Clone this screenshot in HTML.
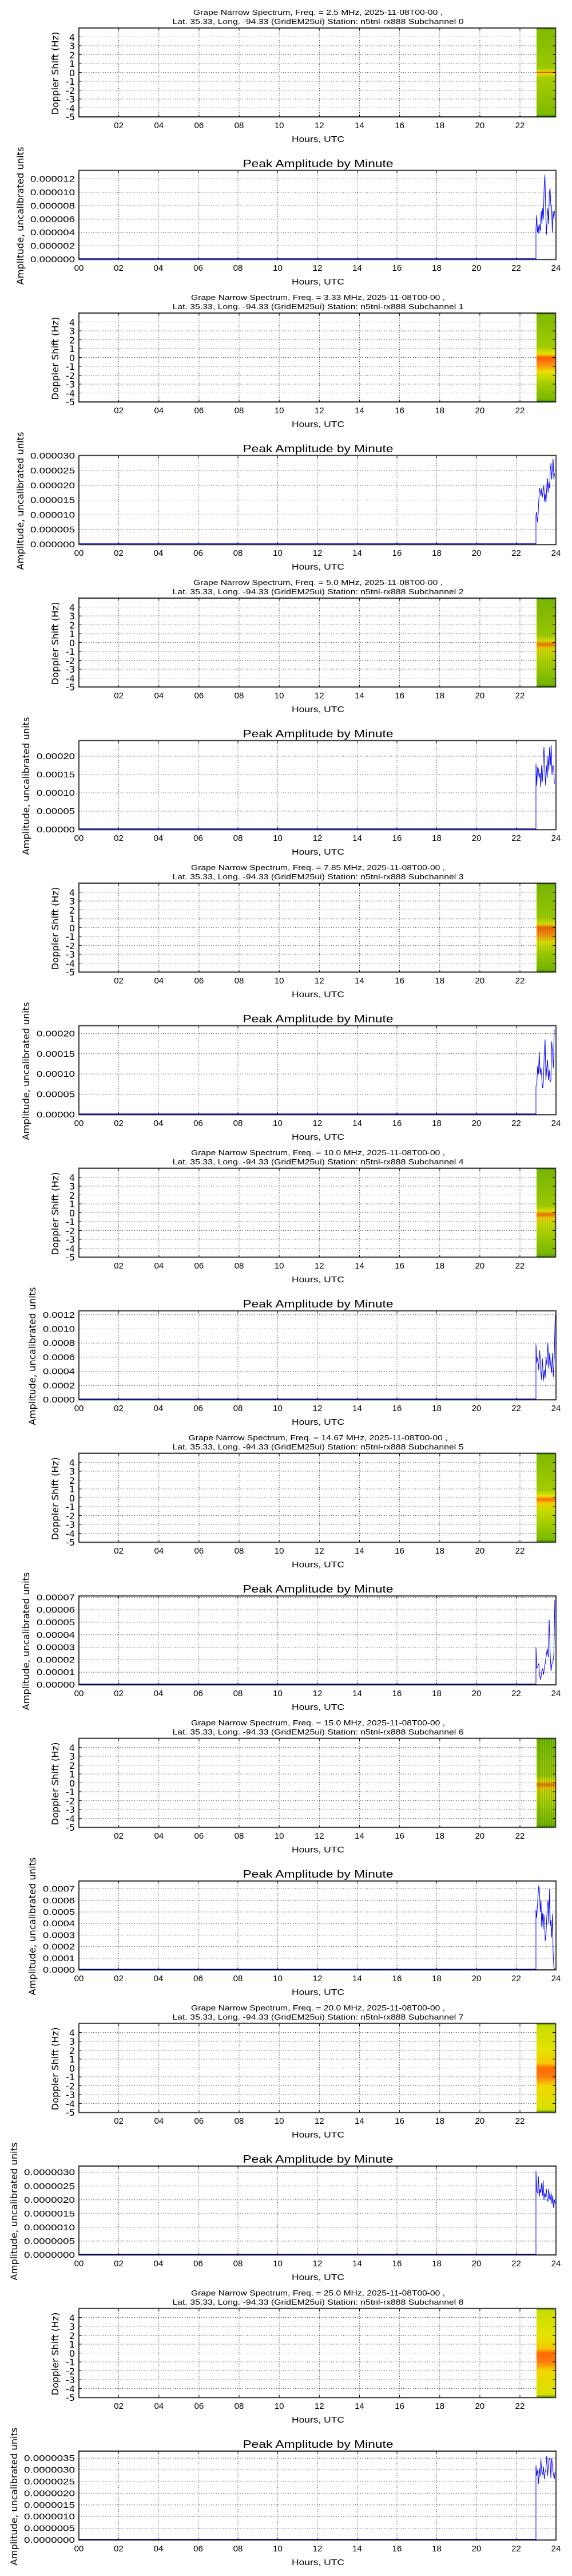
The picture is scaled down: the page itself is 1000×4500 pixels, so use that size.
<!DOCTYPE html>
<html><head><meta charset="utf-8"><style>
html,body{margin:0;padding:0;background:#fff;}
svg{display:block;}
text{font-family:"Liberation Sans",sans-serif;fill:#000;}
.t{font-size:13px;text-anchor:middle;}
.tk{font-size:15px;text-anchor:middle;}
.yt{font-size:16px;text-anchor:end;font-family:"DejaVu Sans","Liberation Sans",sans-serif;}
.ya{font-size:15px;text-anchor:end;}
.yl{font-size:16px;text-anchor:middle;font-family:"DejaVu Sans","Liberation Sans",sans-serif;}
.at{font-size:18px;text-anchor:middle;}
.g{stroke:#000;stroke-width:0.8;stroke-dasharray:1.2,3;fill:none;}
.fr{fill:none;stroke:#000;stroke-width:1.4;}
.ob{fill:none;stroke:#bbb;stroke-width:1;}
.tc{stroke:#000;stroke-width:1;}
.ln{fill:none;stroke:#0000ff;stroke-width:1;vector-effect:non-scaling-stroke;}
</style></head><body>
<svg width="1000" height="4500" viewBox="0 0 1000 4500" xmlns="http://www.w3.org/2000/svg">
<defs>
<linearGradient id="gA" x1="0" y1="0" x2="0" y2="1">
<stop offset="0" stop-color="#3f8f00"/><stop offset="0.02" stop-color="#7fbb00"/><stop offset="0.45" stop-color="#9cc800"/><stop offset="0.49" stop-color="#d8e000"/><stop offset="0.5" stop-color="#ff2000"/><stop offset="0.51" stop-color="#e0e000"/><stop offset="0.56" stop-color="#a8cc00"/><stop offset="0.97" stop-color="#80bb00"/><stop offset="1" stop-color="#3f8f00"/>
</linearGradient>
<linearGradient id="gB" x1="0" y1="0" x2="0" y2="1">
<stop offset="0" stop-color="#3f8f00"/><stop offset="0.02" stop-color="#80bb00"/><stop offset="0.38" stop-color="#a0cc00"/><stop offset="0.46" stop-color="#e8e400"/><stop offset="0.5" stop-color="#ff5a00"/><stop offset="0.58" stop-color="#ff8a10"/><stop offset="0.66" stop-color="#e8e000"/><stop offset="0.8" stop-color="#a0cc00"/><stop offset="0.97" stop-color="#7cb800"/><stop offset="1" stop-color="#3f8f00"/>
</linearGradient>
<linearGradient id="gC" x1="0" y1="0" x2="0" y2="1">
<stop offset="0" stop-color="#3f8f00"/><stop offset="0.02" stop-color="#80bb00"/><stop offset="0.42" stop-color="#a4cc00"/><stop offset="0.48" stop-color="#e8e400"/><stop offset="0.52" stop-color="#ff6a00"/><stop offset="0.56" stop-color="#f0d000"/><stop offset="0.64" stop-color="#c8da00"/><stop offset="0.8" stop-color="#a0cc00"/><stop offset="0.97" stop-color="#7cb800"/><stop offset="1" stop-color="#3f8f00"/>
</linearGradient>
<linearGradient id="gD" x1="0" y1="0" x2="0" y2="1">
<stop offset="0" stop-color="#3f8f00"/><stop offset="0.02" stop-color="#c8dc00"/><stop offset="0.3" stop-color="#e4e400"/><stop offset="0.45" stop-color="#f4c800"/><stop offset="0.5" stop-color="#ff6a00"/><stop offset="0.6" stop-color="#ff7a10"/><stop offset="0.7" stop-color="#f0d800"/><stop offset="0.97" stop-color="#d8e000"/><stop offset="1" stop-color="#3f8f00"/>
</linearGradient>
<g id="sp">
<path class="g" d="M207.6 49V204M277.8 49V204M347.9 49V204M418 49V204M488.2 49V204M558.3 49V204M628.5 49V204M698.6 49V204M768.8 49V204M838.9 49V204M909 49V204M138 64.5H971M138 80H971M138 95.5H971M138 111H971M138 126.5H971M138 142H971M138 157.5H971M138 173H971M138 188.5H971"/>
</g>
<g id="spf">
<path class="tc" d="M207.6 204v-4M277.8 204v-4M347.9 204v-4M418 204v-4M488.2 204v-4M558.3 204v-4M628.5 204v-4M698.6 204v-4M768.8 204v-4M838.9 204v-4M909 204v-4M207.6 49v4M277.8 49v4M347.9 49v4M418 49v4M488.2 49v4M558.3 49v4M628.5 49v4M698.6 49v4M768.8 49v4M838.9 49v4M909 49v4M138 64.5h4M138 80h4M138 95.5h4M138 111h4M138 126.5h4M138 142h4M138 157.5h4M138 173h4M138 188.5h4M971 64.5h-5M971 80h-5M971 95.5h-5M971 111h-5M971 126.5h-5M971 142h-5M971 157.5h-5M971 173h-5M971 188.5h-5"/>
<rect class="ob" x="136.5" y="47.5" width="836" height="158"/>
<rect class="fr" x="138" y="49" width="833" height="155"/>
</g>
<g id="ax">
<path class="g" d="M207.5 298V453M277 298V453M346.5 298V453M416 298V453M485.5 298V453M555 298V453M624.5 298V453M694 298V453M763.5 298V453M833 298V453M902.5 298V453"/>
<line x1="138" y1="452" x2="937" y2="452" stroke="#0000ff" stroke-width="1.6"/>
</g>
<g id="axf">
<path class="tc" d="M207.5 453v-4M277 453v-4M346.5 453v-4M416 453v-4M485.5 453v-4M555 453v-4M624.5 453v-4M694 453v-4M763.5 453v-4M833 453v-4M902.5 453v-4M207.5 298v4M277 298v4M346.5 298v4M416 298v4M485.5 298v4M555 298v4M624.5 298v4M694 298v4M763.5 298v4M833 298v4M902.5 298v4"/>
<rect class="ob" x="136.5" y="296.5" width="836" height="158"/>
<rect class="fr" x="138" y="298" width="834" height="155"/>
</g>
</defs>

<!-- common text is written per block -->

<!-- BLOCK 0 -->
<g transform="translate(0,0)">
<text class="t" x="556" y="26" textLength="436" lengthAdjust="spacingAndGlyphs">Grape Narrow Spectrum, Freq. = 2.5 MHz, 2025-11-08T00-00 ,</text>
<text class="t" x="556" y="42" textLength="509" lengthAdjust="spacingAndGlyphs">Lat.  35.33, Long. -94.33 (GridEM25ui) Station: n5tnl-rx888 Subchannel 0</text>
<use href="#sp"/>
<rect x="938" y="49" width="33" height="155" fill="url(#gA)"/>
<use href="#spf"/>
<text class="yt" x="131" y="71">4</text><text class="yt" x="131" y="86">3</text><text class="yt" x="131" y="102">2</text><text class="yt" x="131" y="117">1</text><text class="yt" x="131" y="133">0</text><text class="yt" x="131" y="148">-1</text><text class="yt" x="131" y="164">-2</text><text class="yt" x="131" y="179">-3</text><text class="yt" x="131" y="195">-4</text><text class="yt" x="131" y="210">-5</text>
<text class="yl" transform="translate(102,128) rotate(-90)" textLength="145" lengthAdjust="spacingAndGlyphs">Doppler Shift (Hz)</text>
<g class="tk"><text x="207.6" y="224">02</text><text x="277.8" y="224">04</text><text x="347.9" y="224">06</text><text x="418" y="224">08</text><text x="488.2" y="224">10</text><text x="558.3" y="224">12</text><text x="628.5" y="224">14</text><text x="698.6" y="224">16</text><text x="768.8" y="224">18</text><text x="838.9" y="224">20</text><text x="909" y="224">22</text></g>
<text class="tk" x="556" y="248" textLength="92" lengthAdjust="spacingAndGlyphs">Hours, UTC</text>
<text class="at" x="556" y="292" textLength="263" lengthAdjust="spacingAndGlyphs">Peak Amplitude by Minute</text>
<use href="#ax"/>
<path class="g" d="M138 429.6H972M138 406.2H972M138 382.8H972M138 359.4H972M138 336H972M138 312.6H972"/>
<polyline class="ln" transform="translate(937,453) scale(1.3,-23.4)" points="0,0 0,2.3 1,3.3 2,2 3,2.5 4,1.9 5,2.6 6,2.1 7,3.6 8,2.6 9,3.8 10,3 11,5.4 12,6.3 13,4 14,1.8 15,3 16,3.8 17,2.6 18,5 19,5.3 20,4 21,4 22,2 23,3.6 24,3 25,3.6"/>
<use href="#axf"/>
<g class="ya"><text x="131" y="458" textLength="78" lengthAdjust="spacingAndGlyphs">0.000000</text><text x="131" y="434.6" textLength="78" lengthAdjust="spacingAndGlyphs">0.000002</text><text x="131" y="411.2" textLength="78" lengthAdjust="spacingAndGlyphs">0.000004</text><text x="131" y="387.8" textLength="78" lengthAdjust="spacingAndGlyphs">0.000006</text><text x="131" y="364.4" textLength="78" lengthAdjust="spacingAndGlyphs">0.000008</text><text x="131" y="341" textLength="78" lengthAdjust="spacingAndGlyphs">0.000010</text><text x="131" y="317.6" textLength="78" lengthAdjust="spacingAndGlyphs">0.000012</text></g>
<text class="yl" transform="translate(41,377) rotate(-90)" textLength="241" lengthAdjust="spacingAndGlyphs">Amplitude, uncalibrated units</text>
<g class="tk"><text x="138" y="473">00</text><text x="207.5" y="473">02</text><text x="277" y="473">04</text><text x="346.5" y="473">06</text><text x="416" y="473">08</text><text x="485.5" y="473">10</text><text x="555" y="473">12</text><text x="624.5" y="473">14</text><text x="694" y="473">16</text><text x="763.5" y="473">18</text><text x="833" y="473">20</text><text x="902.5" y="473">22</text><text x="972" y="473">24</text></g>
<text class="tk" x="556" y="497" textLength="92" lengthAdjust="spacingAndGlyphs">Hours, UTC</text>
</g>

<!-- BLOCK 1 -->
<g transform="translate(0,498)">
<text class="t" x="556" y="26" textLength="444" lengthAdjust="spacingAndGlyphs">Grape Narrow Spectrum, Freq. = 3.33 MHz, 2025-11-08T00-00 ,</text>
<text class="t" x="556" y="42" textLength="509" lengthAdjust="spacingAndGlyphs">Lat.  35.33, Long. -94.33 (GridEM25ui) Station: n5tnl-rx888 Subchannel 1</text>
<use href="#sp"/>
<rect x="938" y="49" width="33" height="155" fill="url(#gB)"/>
<use href="#spf"/>
<text class="yt" x="131" y="71">4</text><text class="yt" x="131" y="86">3</text><text class="yt" x="131" y="102">2</text><text class="yt" x="131" y="117">1</text><text class="yt" x="131" y="133">0</text><text class="yt" x="131" y="148">-1</text><text class="yt" x="131" y="164">-2</text><text class="yt" x="131" y="179">-3</text><text class="yt" x="131" y="195">-4</text><text class="yt" x="131" y="210">-5</text>
<text class="yl" transform="translate(102,128) rotate(-90)" textLength="145" lengthAdjust="spacingAndGlyphs">Doppler Shift (Hz)</text>
<g class="tk"><text x="207.6" y="224">02</text><text x="277.8" y="224">04</text><text x="347.9" y="224">06</text><text x="418" y="224">08</text><text x="488.2" y="224">10</text><text x="558.3" y="224">12</text><text x="628.5" y="224">14</text><text x="698.6" y="224">16</text><text x="768.8" y="224">18</text><text x="838.9" y="224">20</text><text x="909" y="224">22</text></g>
<text class="tk" x="556" y="248" textLength="92" lengthAdjust="spacingAndGlyphs">Hours, UTC</text>
<text class="at" x="556" y="292" textLength="263" lengthAdjust="spacingAndGlyphs">Peak Amplitude by Minute</text>
<use href="#ax"/>
<path class="g" d="M138 427.2H972M138 401.4H972M138 375.6H972M138 349.8H972M138 324H972M138 298.2H972"/>
<polyline class="ln" transform="translate(937,453) scale(1.25,-25.8)" points="0,0 0,2 1,2.2 2,1.5 3,2 4,3 5,3.8 6,3.6 7,3.3 8,3.8 9,3.2 10,3.6 11,4 12,2.9 13,3.4 14,2.8 15,3.8 16,4.5 17,3.5 18,4.2 19,3.8 20,5 21,5.5 22,4.4 23,5.2 24,5.8 25,4.4 26,4.8"/>
<use href="#axf"/>
<g class="ya"><text x="131" y="458" textLength="78" lengthAdjust="spacingAndGlyphs">0.000000</text><text x="131" y="432.2" textLength="78" lengthAdjust="spacingAndGlyphs">0.000005</text><text x="131" y="406.4" textLength="78" lengthAdjust="spacingAndGlyphs">0.000010</text><text x="131" y="380.6" textLength="78" lengthAdjust="spacingAndGlyphs">0.000015</text><text x="131" y="354.8" textLength="78" lengthAdjust="spacingAndGlyphs">0.000020</text><text x="131" y="329" textLength="78" lengthAdjust="spacingAndGlyphs">0.000025</text><text x="131" y="303.2" textLength="78" lengthAdjust="spacingAndGlyphs">0.000030</text></g>
<text class="yl" transform="translate(41,377) rotate(-90)" textLength="241" lengthAdjust="spacingAndGlyphs">Amplitude, uncalibrated units</text>
<g class="tk"><text x="138" y="473">00</text><text x="207.5" y="473">02</text><text x="277" y="473">04</text><text x="346.5" y="473">06</text><text x="416" y="473">08</text><text x="485.5" y="473">10</text><text x="555" y="473">12</text><text x="624.5" y="473">14</text><text x="694" y="473">16</text><text x="763.5" y="473">18</text><text x="833" y="473">20</text><text x="902.5" y="473">22</text><text x="972" y="473">24</text></g>
<text class="tk" x="556" y="497" textLength="92" lengthAdjust="spacingAndGlyphs">Hours, UTC</text>
</g>

<!-- BLOCK 2 -->
<g transform="translate(0,996)">
<text class="t" x="556" y="26" textLength="436" lengthAdjust="spacingAndGlyphs">Grape Narrow Spectrum, Freq. = 5.0 MHz, 2025-11-08T00-00 ,</text>
<text class="t" x="556" y="42" textLength="509" lengthAdjust="spacingAndGlyphs">Lat.  35.33, Long. -94.33 (GridEM25ui) Station: n5tnl-rx888 Subchannel 2</text>
<use href="#sp"/>
<rect x="938" y="49" width="33" height="155" fill="url(#gC)"/>
<path d="M941 49V204M945 49V204M949 49V204M953 49V204M957 49V204M961 49V204M965 49V204M969 49V204" stroke="#3f8f00" stroke-width="0.8" opacity="0.6"/>
<use href="#spf"/>
<text class="yt" x="131" y="71">4</text><text class="yt" x="131" y="86">3</text><text class="yt" x="131" y="102">2</text><text class="yt" x="131" y="117">1</text><text class="yt" x="131" y="133">0</text><text class="yt" x="131" y="148">-1</text><text class="yt" x="131" y="164">-2</text><text class="yt" x="131" y="179">-3</text><text class="yt" x="131" y="195">-4</text><text class="yt" x="131" y="210">-5</text>
<text class="yl" transform="translate(102,128) rotate(-90)" textLength="145" lengthAdjust="spacingAndGlyphs">Doppler Shift (Hz)</text>
<g class="tk"><text x="207.6" y="224">02</text><text x="277.8" y="224">04</text><text x="347.9" y="224">06</text><text x="418" y="224">08</text><text x="488.2" y="224">10</text><text x="558.3" y="224">12</text><text x="628.5" y="224">14</text><text x="698.6" y="224">16</text><text x="768.8" y="224">18</text><text x="838.9" y="224">20</text><text x="909" y="224">22</text></g>
<text class="tk" x="556" y="248" textLength="92" lengthAdjust="spacingAndGlyphs">Hours, UTC</text>
<text class="at" x="556" y="292" textLength="263" lengthAdjust="spacingAndGlyphs">Peak Amplitude by Minute</text>
<use href="#ax"/>
<path class="g" d="M138 421H972M138 389H972M138 357H972M138 325H972"/>
<polyline class="ln" transform="translate(937,453) scale(1.4,-32)" points="0,0 0,3.6 1,2.4 2,3.4 3,3.3 4,2.8 5,3.1 6,2.3 7,3.5 8,2.6 9,3.6 10,4.5 11,3.3 12,2.4 13,3.5 14,2.8 15,4 16,3.2 17,4.5 18,3.5 19,4.6 20,3 21,3.5 22,3.4 23,2.5"/>
<use href="#axf"/>
<g class="ya"><text x="131" y="458" textLength="67" lengthAdjust="spacingAndGlyphs">0.00000</text><text x="131" y="426" textLength="67" lengthAdjust="spacingAndGlyphs">0.00005</text><text x="131" y="394" textLength="67" lengthAdjust="spacingAndGlyphs">0.00010</text><text x="131" y="362" textLength="67" lengthAdjust="spacingAndGlyphs">0.00015</text><text x="131" y="330" textLength="67" lengthAdjust="spacingAndGlyphs">0.00020</text></g>
<text class="yl" transform="translate(51,377) rotate(-90)" textLength="241" lengthAdjust="spacingAndGlyphs">Amplitude, uncalibrated units</text>
<g class="tk"><text x="138" y="473">00</text><text x="207.5" y="473">02</text><text x="277" y="473">04</text><text x="346.5" y="473">06</text><text x="416" y="473">08</text><text x="485.5" y="473">10</text><text x="555" y="473">12</text><text x="624.5" y="473">14</text><text x="694" y="473">16</text><text x="763.5" y="473">18</text><text x="833" y="473">20</text><text x="902.5" y="473">22</text><text x="972" y="473">24</text></g>
<text class="tk" x="556" y="497" textLength="92" lengthAdjust="spacingAndGlyphs">Hours, UTC</text>
</g>

<!-- BLOCK 3 -->
<g transform="translate(0,1494)">
<text class="t" x="556" y="26" textLength="444" lengthAdjust="spacingAndGlyphs">Grape Narrow Spectrum, Freq. = 7.85 MHz, 2025-11-08T00-00 ,</text>
<text class="t" x="556" y="42" textLength="509" lengthAdjust="spacingAndGlyphs">Lat.  35.33, Long. -94.33 (GridEM25ui) Station: n5tnl-rx888 Subchannel 3</text>
<use href="#sp"/>
<rect x="938" y="49" width="33" height="155" fill="url(#gB)"/>
<path d="M941 49V204M945 49V204M949 49V204M953 49V204M957 49V204M961 49V204M965 49V204M969 49V204" stroke="#3f8f00" stroke-width="0.8" opacity="0.6"/>
<use href="#spf"/>
<text class="yt" x="131" y="71">4</text><text class="yt" x="131" y="86">3</text><text class="yt" x="131" y="102">2</text><text class="yt" x="131" y="117">1</text><text class="yt" x="131" y="133">0</text><text class="yt" x="131" y="148">-1</text><text class="yt" x="131" y="164">-2</text><text class="yt" x="131" y="179">-3</text><text class="yt" x="131" y="195">-4</text><text class="yt" x="131" y="210">-5</text>
<text class="yl" transform="translate(102,128) rotate(-90)" textLength="145" lengthAdjust="spacingAndGlyphs">Doppler Shift (Hz)</text>
<g class="tk"><text x="207.6" y="224">02</text><text x="277.8" y="224">04</text><text x="347.9" y="224">06</text><text x="418" y="224">08</text><text x="488.2" y="224">10</text><text x="558.3" y="224">12</text><text x="628.5" y="224">14</text><text x="698.6" y="224">16</text><text x="768.8" y="224">18</text><text x="838.9" y="224">20</text><text x="909" y="224">22</text></g>
<text class="tk" x="556" y="248" textLength="92" lengthAdjust="spacingAndGlyphs">Hours, UTC</text>
<text class="at" x="556" y="292" textLength="263" lengthAdjust="spacingAndGlyphs">Peak Amplitude by Minute</text>
<use href="#ax"/>
<path class="g" d="M138 417.6H972M138 382.2H972M138 346.8H972M138 311.4H972"/>
<polyline class="ln" transform="translate(937,453) scale(1.45,-35.4)" points="0,0 0,1.4 1,1.5 2,2.4 3,2 4,3.1 5,2 6,2.3 7,1.8 8,1.3 9,1.6 10,3 11,3.7 12,1.7 13,2.3 14,2.7 15,1.7 16,2.2 17,1.6 18,1.7 19,3.6 20,3 21,2.3 22,4.2"/>
<use href="#axf"/>
<g class="ya"><text x="131" y="458" textLength="67" lengthAdjust="spacingAndGlyphs">0.00000</text><text x="131" y="422.6" textLength="67" lengthAdjust="spacingAndGlyphs">0.00005</text><text x="131" y="387.2" textLength="67" lengthAdjust="spacingAndGlyphs">0.00010</text><text x="131" y="351.8" textLength="67" lengthAdjust="spacingAndGlyphs">0.00015</text><text x="131" y="316.4" textLength="67" lengthAdjust="spacingAndGlyphs">0.00020</text></g>
<text class="yl" transform="translate(51,377) rotate(-90)" textLength="241" lengthAdjust="spacingAndGlyphs">Amplitude, uncalibrated units</text>
<g class="tk"><text x="138" y="473">00</text><text x="207.5" y="473">02</text><text x="277" y="473">04</text><text x="346.5" y="473">06</text><text x="416" y="473">08</text><text x="485.5" y="473">10</text><text x="555" y="473">12</text><text x="624.5" y="473">14</text><text x="694" y="473">16</text><text x="763.5" y="473">18</text><text x="833" y="473">20</text><text x="902.5" y="473">22</text><text x="972" y="473">24</text></g>
<text class="tk" x="556" y="497" textLength="92" lengthAdjust="spacingAndGlyphs">Hours, UTC</text>
</g>

<!-- BLOCK 4 -->
<g transform="translate(0,1992)">
<text class="t" x="556" y="26" textLength="444" lengthAdjust="spacingAndGlyphs">Grape Narrow Spectrum, Freq. = 10.0 MHz, 2025-11-08T00-00 ,</text>
<text class="t" x="556" y="42" textLength="509" lengthAdjust="spacingAndGlyphs">Lat.  35.33, Long. -94.33 (GridEM25ui) Station: n5tnl-rx888 Subchannel 4</text>
<use href="#sp"/>
<rect x="938" y="49" width="33" height="155" fill="url(#gC)"/>
<path d="M941 49V204M945 49V204M949 49V204M953 49V204M957 49V204M961 49V204M965 49V204M969 49V204" stroke="#3f8f00" stroke-width="0.8" opacity="0.5"/>
<use href="#spf"/>
<text class="yt" x="131" y="71">4</text><text class="yt" x="131" y="86">3</text><text class="yt" x="131" y="102">2</text><text class="yt" x="131" y="117">1</text><text class="yt" x="131" y="133">0</text><text class="yt" x="131" y="148">-1</text><text class="yt" x="131" y="164">-2</text><text class="yt" x="131" y="179">-3</text><text class="yt" x="131" y="195">-4</text><text class="yt" x="131" y="210">-5</text>
<text class="yl" transform="translate(102,128) rotate(-90)" textLength="145" lengthAdjust="spacingAndGlyphs">Doppler Shift (Hz)</text>
<g class="tk"><text x="207.6" y="224">02</text><text x="277.8" y="224">04</text><text x="347.9" y="224">06</text><text x="418" y="224">08</text><text x="488.2" y="224">10</text><text x="558.3" y="224">12</text><text x="628.5" y="224">14</text><text x="698.6" y="224">16</text><text x="768.8" y="224">18</text><text x="838.9" y="224">20</text><text x="909" y="224">22</text></g>
<text class="tk" x="556" y="248" textLength="92" lengthAdjust="spacingAndGlyphs">Hours, UTC</text>
<text class="at" x="556" y="292" textLength="263" lengthAdjust="spacingAndGlyphs">Peak Amplitude by Minute</text>
<use href="#ax"/>
<path class="g" d="M138 428.3H972M138 403.6H972M138 378.9H972M138 354.2H972M138 329.5H972M138 304.8H972"/>
<polyline class="ln" transform="translate(937,453) scale(1.6,-24.7)" points="0,0 0,3.9 1,2.6 2,3 3,2.1 4,3.5 5,2.4 6,1.4 7,2.9 8,1.3 9,2.1 10,1.5 11,3 12,2.4 13,4 14,2.2 15,3.3 16,2.5 17,1.9 18,3.3 19,1.6 20,3 21,6"/>
<use href="#axf"/>
<g class="ya"><text x="131" y="458" textLength="56" lengthAdjust="spacingAndGlyphs">0.0000</text><text x="131" y="433.3" textLength="56" lengthAdjust="spacingAndGlyphs">0.0002</text><text x="131" y="408.6" textLength="56" lengthAdjust="spacingAndGlyphs">0.0004</text><text x="131" y="383.9" textLength="56" lengthAdjust="spacingAndGlyphs">0.0006</text><text x="131" y="359.2" textLength="56" lengthAdjust="spacingAndGlyphs">0.0008</text><text x="131" y="334.5" textLength="56" lengthAdjust="spacingAndGlyphs">0.0010</text><text x="131" y="309.8" textLength="56" lengthAdjust="spacingAndGlyphs">0.0012</text></g>
<text class="yl" transform="translate(62,377) rotate(-90)" textLength="241" lengthAdjust="spacingAndGlyphs">Amplitude, uncalibrated units</text>
<g class="tk"><text x="138" y="473">00</text><text x="207.5" y="473">02</text><text x="277" y="473">04</text><text x="346.5" y="473">06</text><text x="416" y="473">08</text><text x="485.5" y="473">10</text><text x="555" y="473">12</text><text x="624.5" y="473">14</text><text x="694" y="473">16</text><text x="763.5" y="473">18</text><text x="833" y="473">20</text><text x="902.5" y="473">22</text><text x="972" y="473">24</text></g>
<text class="tk" x="556" y="497" textLength="92" lengthAdjust="spacingAndGlyphs">Hours, UTC</text>
</g>

<!-- BLOCK 5 -->
<g transform="translate(0,2490)">
<text class="t" x="556" y="26" textLength="453" lengthAdjust="spacingAndGlyphs">Grape Narrow Spectrum, Freq. = 14.67 MHz, 2025-11-08T00-00 ,</text>
<text class="t" x="556" y="42" textLength="509" lengthAdjust="spacingAndGlyphs">Lat.  35.33, Long. -94.33 (GridEM25ui) Station: n5tnl-rx888 Subchannel 5</text>
<use href="#sp"/>
<rect x="938" y="49" width="33" height="155" fill="url(#gC)"/>
<use href="#spf"/>
<text class="yt" x="131" y="71">4</text><text class="yt" x="131" y="86">3</text><text class="yt" x="131" y="102">2</text><text class="yt" x="131" y="117">1</text><text class="yt" x="131" y="133">0</text><text class="yt" x="131" y="148">-1</text><text class="yt" x="131" y="164">-2</text><text class="yt" x="131" y="179">-3</text><text class="yt" x="131" y="195">-4</text><text class="yt" x="131" y="210">-5</text>
<text class="yl" transform="translate(102,128) rotate(-90)" textLength="145" lengthAdjust="spacingAndGlyphs">Doppler Shift (Hz)</text>
<g class="tk"><text x="207.6" y="224">02</text><text x="277.8" y="224">04</text><text x="347.9" y="224">06</text><text x="418" y="224">08</text><text x="488.2" y="224">10</text><text x="558.3" y="224">12</text><text x="628.5" y="224">14</text><text x="698.6" y="224">16</text><text x="768.8" y="224">18</text><text x="838.9" y="224">20</text><text x="909" y="224">22</text></g>
<text class="tk" x="556" y="248" textLength="92" lengthAdjust="spacingAndGlyphs">Hours, UTC</text>
<text class="at" x="556" y="292" textLength="263" lengthAdjust="spacingAndGlyphs">Peak Amplitude by Minute</text>
<use href="#ax"/>
<path class="g" d="M138 431.2H972M138 409.4H972M138 387.6H972M138 365.8H972M138 344H972M138 322.2H972M138 300.4H972"/>
<polyline class="ln" transform="translate(937,453) scale(1.65,-21.8)" points="0,0 0,3 1,1.3 2,1.5 3,1.7 4,0.7 5,0.4 6,1 7,1.3 8,0.8 9,1.4 10,1.8 11,2.4 12,2.9 13,2.2 14,5.2 15,2.5 16,1.1 17,1.7 18,1.8 19,2.5 20,6.8"/>
<use href="#axf"/>
<g class="ya"><text x="131" y="458" textLength="67" lengthAdjust="spacingAndGlyphs">0.00000</text><text x="131" y="436.2" textLength="67" lengthAdjust="spacingAndGlyphs">0.00001</text><text x="131" y="414.4" textLength="67" lengthAdjust="spacingAndGlyphs">0.00002</text><text x="131" y="392.6" textLength="67" lengthAdjust="spacingAndGlyphs">0.00003</text><text x="131" y="370.8" textLength="67" lengthAdjust="spacingAndGlyphs">0.00004</text><text x="131" y="349" textLength="67" lengthAdjust="spacingAndGlyphs">0.00005</text><text x="131" y="327.2" textLength="67" lengthAdjust="spacingAndGlyphs">0.00006</text><text x="131" y="305.4" textLength="67" lengthAdjust="spacingAndGlyphs">0.00007</text></g>
<text class="yl" transform="translate(51,377) rotate(-90)" textLength="241" lengthAdjust="spacingAndGlyphs">Amplitude, uncalibrated units</text>
<g class="tk"><text x="138" y="473">00</text><text x="207.5" y="473">02</text><text x="277" y="473">04</text><text x="346.5" y="473">06</text><text x="416" y="473">08</text><text x="485.5" y="473">10</text><text x="555" y="473">12</text><text x="624.5" y="473">14</text><text x="694" y="473">16</text><text x="763.5" y="473">18</text><text x="833" y="473">20</text><text x="902.5" y="473">22</text><text x="972" y="473">24</text></g>
<text class="tk" x="556" y="497" textLength="92" lengthAdjust="spacingAndGlyphs">Hours, UTC</text>
</g>

<!-- BLOCK 6 -->
<g transform="translate(0,2988)">
<text class="t" x="556" y="26" textLength="444" lengthAdjust="spacingAndGlyphs">Grape Narrow Spectrum, Freq. = 15.0 MHz, 2025-11-08T00-00 ,</text>
<text class="t" x="556" y="42" textLength="509" lengthAdjust="spacingAndGlyphs">Lat.  35.33, Long. -94.33 (GridEM25ui) Station: n5tnl-rx888 Subchannel 6</text>
<use href="#sp"/>
<rect x="938" y="49" width="33" height="155" fill="url(#gC)"/>
<path d="M941 49V204M944 49V204M948 49V204M952 49V204M956 49V204M960 49V204M964 49V204M968 49V204" stroke="#2f8000" stroke-width="1" opacity="0.7"/>
<use href="#spf"/>
<text class="yt" x="131" y="71">4</text><text class="yt" x="131" y="86">3</text><text class="yt" x="131" y="102">2</text><text class="yt" x="131" y="117">1</text><text class="yt" x="131" y="133">0</text><text class="yt" x="131" y="148">-1</text><text class="yt" x="131" y="164">-2</text><text class="yt" x="131" y="179">-3</text><text class="yt" x="131" y="195">-4</text><text class="yt" x="131" y="210">-5</text>
<text class="yl" transform="translate(102,128) rotate(-90)" textLength="145" lengthAdjust="spacingAndGlyphs">Doppler Shift (Hz)</text>
<g class="tk"><text x="207.6" y="224">02</text><text x="277.8" y="224">04</text><text x="347.9" y="224">06</text><text x="418" y="224">08</text><text x="488.2" y="224">10</text><text x="558.3" y="224">12</text><text x="628.5" y="224">14</text><text x="698.6" y="224">16</text><text x="768.8" y="224">18</text><text x="838.9" y="224">20</text><text x="909" y="224">22</text></g>
<text class="tk" x="556" y="248" textLength="92" lengthAdjust="spacingAndGlyphs">Hours, UTC</text>
<text class="at" x="556" y="292" textLength="263" lengthAdjust="spacingAndGlyphs">Peak Amplitude by Minute</text>
<use href="#ax"/>
<path class="g" d="M138 432.8H972M138 412.6H972M138 392.4H972M138 372.2H972M138 352H972M138 331.8H972M138 311.6H972"/>
<polyline class="ln" transform="translate(937,453) scale(1.25,-20.2)" points="0,0 0,5.2 1,4.5 2,5.5 3,6.5 4,7.3 5,6.8 6,5 7,6 8,3.7 9,4.9 10,3.5 11,4.8 12,4.2 13,2.5 14,3 15,4.4 16,5.5 17,6 18,4 19,7 20,3.8 21,4.3 22,2.8 23,4.8 24,1.5 25,0.2 26,0.1 27,0.1"/>
<use href="#axf"/>
<g class="ya"><text x="131" y="458" textLength="56" lengthAdjust="spacingAndGlyphs">0.0000</text><text x="131" y="437.8" textLength="56" lengthAdjust="spacingAndGlyphs">0.0001</text><text x="131" y="417.6" textLength="56" lengthAdjust="spacingAndGlyphs">0.0002</text><text x="131" y="397.4" textLength="56" lengthAdjust="spacingAndGlyphs">0.0003</text><text x="131" y="377.2" textLength="56" lengthAdjust="spacingAndGlyphs">0.0004</text><text x="131" y="357" textLength="56" lengthAdjust="spacingAndGlyphs">0.0005</text><text x="131" y="336.8" textLength="56" lengthAdjust="spacingAndGlyphs">0.0006</text><text x="131" y="316.6" textLength="56" lengthAdjust="spacingAndGlyphs">0.0007</text></g>
<text class="yl" transform="translate(62,377) rotate(-90)" textLength="241" lengthAdjust="spacingAndGlyphs">Amplitude, uncalibrated units</text>
<g class="tk"><text x="138" y="473">00</text><text x="207.5" y="473">02</text><text x="277" y="473">04</text><text x="346.5" y="473">06</text><text x="416" y="473">08</text><text x="485.5" y="473">10</text><text x="555" y="473">12</text><text x="624.5" y="473">14</text><text x="694" y="473">16</text><text x="763.5" y="473">18</text><text x="833" y="473">20</text><text x="902.5" y="473">22</text><text x="972" y="473">24</text></g>
<text class="tk" x="556" y="497" textLength="92" lengthAdjust="spacingAndGlyphs">Hours, UTC</text>
</g>

<!-- BLOCK 7 -->
<g transform="translate(0,3486)">
<text class="t" x="556" y="26" textLength="444" lengthAdjust="spacingAndGlyphs">Grape Narrow Spectrum, Freq. = 20.0 MHz, 2025-11-08T00-00 ,</text>
<text class="t" x="556" y="42" textLength="509" lengthAdjust="spacingAndGlyphs">Lat.  35.33, Long. -94.33 (GridEM25ui) Station: n5tnl-rx888 Subchannel 7</text>
<use href="#sp"/>
<rect x="938" y="49" width="33" height="155" fill="url(#gD)"/>
<use href="#spf"/>
<text class="yt" x="131" y="71">4</text><text class="yt" x="131" y="86">3</text><text class="yt" x="131" y="102">2</text><text class="yt" x="131" y="117">1</text><text class="yt" x="131" y="133">0</text><text class="yt" x="131" y="148">-1</text><text class="yt" x="131" y="164">-2</text><text class="yt" x="131" y="179">-3</text><text class="yt" x="131" y="195">-4</text><text class="yt" x="131" y="210">-5</text>
<text class="yl" transform="translate(102,128) rotate(-90)" textLength="145" lengthAdjust="spacingAndGlyphs">Doppler Shift (Hz)</text>
<g class="tk"><text x="207.6" y="224">02</text><text x="277.8" y="224">04</text><text x="347.9" y="224">06</text><text x="418" y="224">08</text><text x="488.2" y="224">10</text><text x="558.3" y="224">12</text><text x="628.5" y="224">14</text><text x="698.6" y="224">16</text><text x="768.8" y="224">18</text><text x="838.9" y="224">20</text><text x="909" y="224">22</text></g>
<text class="tk" x="556" y="248" textLength="92" lengthAdjust="spacingAndGlyphs">Hours, UTC</text>
<text class="at" x="556" y="292" textLength="263" lengthAdjust="spacingAndGlyphs">Peak Amplitude by Minute</text>
<use href="#ax"/>
<path class="g" d="M138 428.95H972M138 404.9H972M138 380.85H972M138 356.8H972M138 332.75H972M138 308.7H972"/>
<polyline class="ln" transform="translate(937,453) scale(1.4,-24.05)" points="0,0 0,6.1 1,4.6 2,4.5 3,5.7 4,4.2 5,4.8 6,4.5 7,5.2 8,4.3 9,5.4 10,4 11,4.5 12,4.2 13,4.8 14,4 15,3.9 16,4.8 17,4.1 18,4 19,4.5 20,3.7 21,4.3 22,3.4 23,4 24,3.7"/>
<use href="#axf"/>
<g class="ya"><text x="131" y="458" textLength="89" lengthAdjust="spacingAndGlyphs">0.0000000</text><text x="131" y="433.95" textLength="89" lengthAdjust="spacingAndGlyphs">0.0000005</text><text x="131" y="409.9" textLength="89" lengthAdjust="spacingAndGlyphs">0.0000010</text><text x="131" y="385.85" textLength="89" lengthAdjust="spacingAndGlyphs">0.0000015</text><text x="131" y="361.8" textLength="89" lengthAdjust="spacingAndGlyphs">0.0000020</text><text x="131" y="337.75" textLength="89" lengthAdjust="spacingAndGlyphs">0.0000025</text><text x="131" y="313.7" textLength="89" lengthAdjust="spacingAndGlyphs">0.0000030</text></g>
<text class="yl" transform="translate(30,377) rotate(-90)" textLength="241" lengthAdjust="spacingAndGlyphs">Amplitude, uncalibrated units</text>
<g class="tk"><text x="138" y="473">00</text><text x="207.5" y="473">02</text><text x="277" y="473">04</text><text x="346.5" y="473">06</text><text x="416" y="473">08</text><text x="485.5" y="473">10</text><text x="555" y="473">12</text><text x="624.5" y="473">14</text><text x="694" y="473">16</text><text x="763.5" y="473">18</text><text x="833" y="473">20</text><text x="902.5" y="473">22</text><text x="972" y="473">24</text></g>
<text class="tk" x="556" y="497" textLength="92" lengthAdjust="spacingAndGlyphs">Hours, UTC</text>
</g>

<!-- BLOCK 8 -->
<g transform="translate(0,3984)">
<text class="t" x="556" y="26" textLength="444" lengthAdjust="spacingAndGlyphs">Grape Narrow Spectrum, Freq. = 25.0 MHz, 2025-11-08T00-00 ,</text>
<text class="t" x="556" y="42" textLength="509" lengthAdjust="spacingAndGlyphs">Lat.  35.33, Long. -94.33 (GridEM25ui) Station: n5tnl-rx888 Subchannel 8</text>
<use href="#sp"/>
<rect x="938" y="49" width="33" height="155" fill="url(#gD)"/>
<use href="#spf"/>
<text class="yt" x="131" y="71">4</text><text class="yt" x="131" y="86">3</text><text class="yt" x="131" y="102">2</text><text class="yt" x="131" y="117">1</text><text class="yt" x="131" y="133">0</text><text class="yt" x="131" y="148">-1</text><text class="yt" x="131" y="164">-2</text><text class="yt" x="131" y="179">-3</text><text class="yt" x="131" y="195">-4</text><text class="yt" x="131" y="210">-5</text>
<text class="yl" transform="translate(102,128) rotate(-90)" textLength="145" lengthAdjust="spacingAndGlyphs">Doppler Shift (Hz)</text>
<g class="tk"><text x="207.6" y="224">02</text><text x="277.8" y="224">04</text><text x="347.9" y="224">06</text><text x="418" y="224">08</text><text x="488.2" y="224">10</text><text x="558.3" y="224">12</text><text x="628.5" y="224">14</text><text x="698.6" y="224">16</text><text x="768.8" y="224">18</text><text x="838.9" y="224">20</text><text x="909" y="224">22</text></g>
<text class="tk" x="556" y="248" textLength="92" lengthAdjust="spacingAndGlyphs">Hours, UTC</text>
<text class="at" x="556" y="292" textLength="263" lengthAdjust="spacingAndGlyphs">Peak Amplitude by Minute</text>
<use href="#ax"/>
<path class="g" d="M138 432.6H972M138 412.2H972M138 391.8H972M138 371.4H972M138 351H972M138 330.6H972M138 310.2H972"/>
<polyline class="ln" transform="translate(937,453) scale(1.45,-20.4)" points="0,0 0,6.4 1,5.5 2,6 3,4.8 4,6.2 5,5.4 6,6.9 7,5.8 8,5.6 9,6.3 10,5.2 11,5.8 12,6 13,7.2 14,5.5 15,6.4 16,7 17,6.8 18,5.3 19,7 20,6.2 21,5.6 22,5.2 23,5.8"/>
<use href="#axf"/>
<g class="ya"><text x="131" y="458" textLength="89" lengthAdjust="spacingAndGlyphs">0.0000000</text><text x="131" y="437.6" textLength="89" lengthAdjust="spacingAndGlyphs">0.0000005</text><text x="131" y="417.2" textLength="89" lengthAdjust="spacingAndGlyphs">0.0000010</text><text x="131" y="396.8" textLength="89" lengthAdjust="spacingAndGlyphs">0.0000015</text><text x="131" y="376.4" textLength="89" lengthAdjust="spacingAndGlyphs">0.0000020</text><text x="131" y="356" textLength="89" lengthAdjust="spacingAndGlyphs">0.0000025</text><text x="131" y="335.6" textLength="89" lengthAdjust="spacingAndGlyphs">0.0000030</text><text x="131" y="315.2" textLength="89" lengthAdjust="spacingAndGlyphs">0.0000035</text></g>
<text class="yl" transform="translate(30,377) rotate(-90)" textLength="241" lengthAdjust="spacingAndGlyphs">Amplitude, uncalibrated units</text>
<g class="tk"><text x="138" y="473">00</text><text x="207.5" y="473">02</text><text x="277" y="473">04</text><text x="346.5" y="473">06</text><text x="416" y="473">08</text><text x="485.5" y="473">10</text><text x="555" y="473">12</text><text x="624.5" y="473">14</text><text x="694" y="473">16</text><text x="763.5" y="473">18</text><text x="833" y="473">20</text><text x="902.5" y="473">22</text><text x="972" y="473">24</text></g>
<text class="tk" x="556" y="497" textLength="92" lengthAdjust="spacingAndGlyphs">Hours, UTC</text>
</g>
</svg>
</body></html>
